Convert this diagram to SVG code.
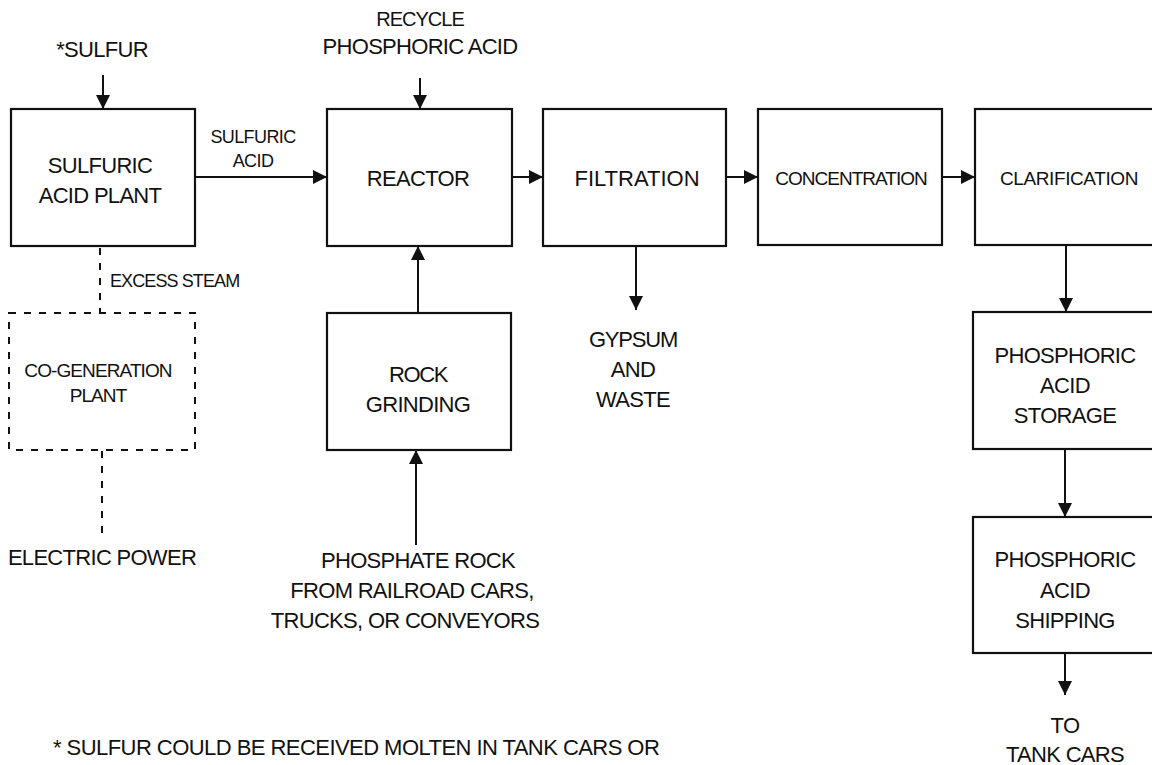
<svg xmlns="http://www.w3.org/2000/svg" width="1152" height="765" viewBox="0 0 1152 765">
<style>
text{font-family:"Liberation Sans",Arial,sans-serif;fill:#111;text-anchor:middle;font-size:22px;letter-spacing:-0.7px}
.sm{font-size:18px;letter-spacing:-0.6px}
.box{fill:#fff;stroke:#111;stroke-width:2.2}
.dash{fill:none;stroke:#111;stroke-width:2;stroke-dasharray:7 8}
.ln{fill:none;stroke:#111;stroke-width:2}
</style>
<defs>
<marker id="ah" markerUnits="userSpaceOnUse" markerWidth="16" markerHeight="16" refX="14" refY="7" orient="auto">
<path d="M0,0 L14,7 L0,14 Z" fill="#111"/>
</marker>
</defs>
<rect width="1152" height="765" fill="#fff"/>
<g id="connectors">
<line class="ln" x1="103" y1="75" x2="103" y2="109" marker-end="url(#ah)"/>
<line class="ln" x1="195" y1="177" x2="327" y2="177" marker-end="url(#ah)"/>
<line class="ln" x1="420" y1="78" x2="420" y2="109" marker-end="url(#ah)"/>
<line class="ln" x1="512" y1="177" x2="543" y2="177" marker-end="url(#ah)"/>
<line class="ln" x1="726" y1="177" x2="758" y2="177" marker-end="url(#ah)"/>
<line class="ln" x1="942" y1="177" x2="975" y2="177" marker-end="url(#ah)"/>
<line class="ln" x1="636" y1="246" x2="636" y2="310" marker-end="url(#ah)"/>
<line class="ln" x1="418" y1="313" x2="418" y2="246" marker-end="url(#ah)"/>
<line class="ln" x1="416" y1="545" x2="416" y2="450" marker-end="url(#ah)"/>
<line class="ln" x1="1066" y1="244" x2="1066" y2="312" marker-end="url(#ah)"/>
<line class="ln" x1="1065" y1="449" x2="1065" y2="517" marker-end="url(#ah)"/>
<line class="ln" x1="1065" y1="653" x2="1065" y2="695" marker-end="url(#ah)"/>
<line class="dash" x1="100" y1="248" x2="100" y2="313"/>
<line class="dash" x1="102" y1="451" x2="102" y2="540"/>
<text class="sm" x="253" y="143">SULFURIC</text>
<text class="sm" x="253" y="167">ACID</text>
<text class="sm" x="110" y="287" style="text-anchor:start;letter-spacing:-0.9px">EXCESS STEAM</text>
</g>
<g id="sulfur-in"><text x="102" y="57">*SULFUR</text></g>
<g id="recycle"><text x="420" y="26" style="font-size:20px;letter-spacing:-1px">RECYCLE</text><text x="420" y="54">PHOSPHORIC ACID</text></g>
<g id="sulfuric-acid-plant">
<rect class="box" x="11" y="109" width="184" height="137"/>
<text x="100" y="173">SULFURIC</text><text x="100" y="203">ACID PLANT</text>
</g>
<g id="reactor">
<rect class="box" x="327" y="109" width="185" height="137"/>
<text x="418" y="186">REACTOR</text>
</g>
<g id="filtration">
<rect class="box" x="543" y="109" width="183" height="137"/>
<text x="637" y="186" style="letter-spacing:0">FILTRATION</text>
</g>
<g id="concentration">
<rect class="box" x="758" y="109" width="184" height="136"/>
<text class="sm" x="851" y="185" style="font-size:19px;letter-spacing:-1px">CONCENTRATION</text>
</g>
<g id="clarification">
<rect class="box" x="975" y="109" width="200" height="136"/>
<text class="sm" x="1069" y="185" style="font-size:19px;letter-spacing:-0.4px">CLARIFICATION</text>
</g>
<g id="cogeneration-plant">
<rect class="dash" x="9" y="313" width="186" height="137"/>
<text class="sm" x="98" y="377" style="font-size:19px;letter-spacing:-0.9px">CO-GENERATION</text><text class="sm" x="98" y="402" style="font-size:19px;letter-spacing:-0.9px">PLANT</text>
</g>
<g id="electric-power"><text x="102" y="565">ELECTRIC POWER</text></g>
<g id="rock-grinding">
<rect class="box" x="327" y="313" width="184" height="137"/>
<text x="418" y="382" style="letter-spacing:-1.4px">ROCK</text><text x="418" y="412">GRINDING</text>
</g>
<g id="phosphate-rock">
<text x="418" y="568">PHOSPHATE ROCK</text>
<text x="412" y="598">FROM RAILROAD CARS,</text>
<text x="405" y="628">TRUCKS, OR CONVEYORS</text>
</g>
<g id="gypsum"><text x="633" y="347" style="letter-spacing:-1.2px">GYPSUM</text><text x="633" y="377">AND</text><text x="633" y="407">WASTE</text></g>
<g id="storage">
<rect class="box" x="973" y="312" width="200" height="137"/>
<text x="1065" y="363">PHOSPHORIC</text><text x="1065" y="393">ACID</text><text x="1065" y="423">STORAGE</text>
</g>
<g id="shipping">
<rect class="box" x="973" y="517" width="200" height="136"/>
<text x="1065" y="567">PHOSPHORIC</text><text x="1065" y="598">ACID</text><text x="1065" y="628">SHIPPING</text>
</g>
<g id="tank-cars"><text x="1065" y="733">TO</text><text x="1065" y="762">TANK CARS</text></g>
<g id="footnote"><text x="53" y="755" style="text-anchor:start;letter-spacing:-0.55px">* SULFUR COULD BE RECEIVED MOLTEN IN TANK CARS OR</text></g>
</svg>
